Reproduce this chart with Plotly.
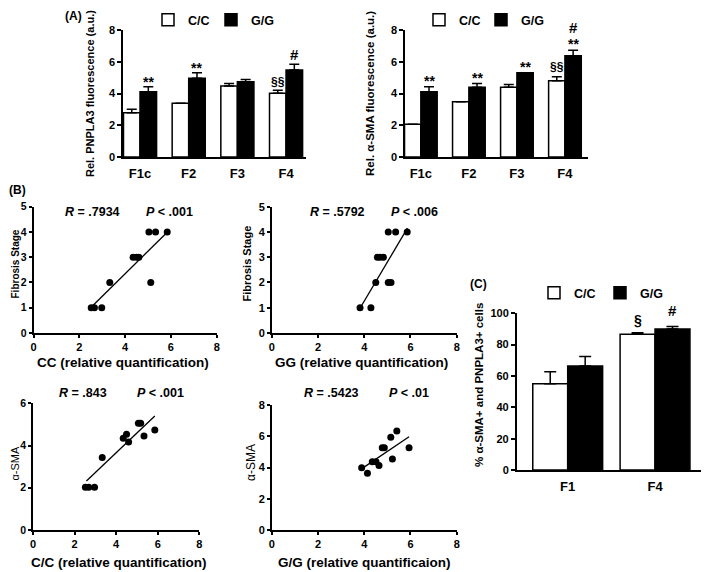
"""
Three-panel figure: PNPLA3 / alpha-SMA fluorescence bars (A),
correlation scatters (B) and double-positive cell bars (C).
"""

import plotly.graph_objects as go

# the page body keeps its default 8px margin, so the figure is drawn
# 8px in from the window corner; positions below are window pixels
PAGE_PAD = 8
W, H = 709 - PAGE_PAD, 572 - PAGE_PAD
FONT = 'Liberation Sans'

# ---- panel A data
A_CATS = ['F1c', 'F2', 'F3', 'F4']
PNPLA3_CC = [2.79, 3.38, 4.47, 4.01]
PNPLA3_CC_SEM = [0.22, 0.0, 0.16, 0.2]
PNPLA3_GG = [4.11, 4.96, 4.74, 5.48]
PNPLA3_GG_SEM = [0.32, 0.35, 0.14, 0.36]
PNPLA3_SIG_CC = ['', '', '', '§§']
PNPLA3_SIG_GG = ['**', '**', '', '']
PNPLA3_SIG_GG_TOP = ['', '', '', '#']

SMA_CC = [2.07, 3.48, 4.39, 4.81]
SMA_CC_SEM = [0.0, 0.0, 0.18, 0.25]
SMA_GG = [4.11, 4.39, 5.31, 6.38]
SMA_GG_SEM = [0.31, 0.24, 0.0, 0.35]
SMA_SIG_CC = ['', '', '', '§§']
SMA_SIG_GG = ['**', '**', '**', '**']
SMA_SIG_GG_TOP = ['', '', '', '#']

# ---- panel B data
CC_FIB_X = [2.52, 2.66, 2.98, 3.33, 4.35, 4.50, 4.60, 5.04, 5.33, 5.84, 5.12]
CC_FIB_Y = [1, 1, 1, 2, 3, 3, 3, 4, 4, 4, 2]
CC_FIB_FIT_X = [2.55, 5.84]
CC_FIB_FIT_Y = [1.05, 3.99]

GG_FIB_X = [3.82, 4.29, 4.50, 5.04, 5.16, 4.57, 4.68, 4.83, 5.04, 5.36, 5.86]
GG_FIB_Y = [1, 1, 2, 2, 2, 3, 3, 3, 4, 4, 4]
GG_FIB_FIT_X = [3.80, 5.87]
GG_FIB_FIT_Y = [0.95, 4.15]

CC_SMA_X = [2.52, 2.68, 2.96, 3.33, 4.34, 4.50, 4.60, 5.07, 5.18, 5.34, 5.86]
CC_SMA_Y = [2.02, 2.02, 2.02, 3.43, 4.34, 4.53, 4.17, 5.05, 5.05, 4.45, 4.74]
CC_SMA_FIT_X = [2.57, 5.86]
CC_SMA_FIT_Y = [2.32, 5.40]

GG_SMA_X = [3.89, 4.14, 4.35, 4.51, 4.64, 4.78, 4.87, 5.15, 5.22, 5.41, 5.94]
GG_SMA_Y = [3.99, 3.63, 4.37, 4.37, 4.12, 5.27, 5.27, 5.93, 4.54, 6.34, 5.27]
GG_SMA_FIT_X = [3.85, 5.94]
GG_SMA_FIT_Y = [3.88, 5.97]

# ---- panel C data
C_CATS = ['F1', 'F4']
DP_CC = [55.0, 86.6]
DP_CC_SEM = [7.7, 1.0]
DP_GG = [66.4, 90.0]
DP_GG_SEM = [6.0, 1.5]
DP_SIG_CC = ['', '§']
DP_SIG_GG = ['', '#']

BAR_W_A = 0.34
BAR_W_C = 0.4


def px(x):
    return (x - PAGE_PAD) / W


def py(y):
    return 1 - (y - PAGE_PAD) / H


def axis(domain, rng, anchor, **kw):
    d = dict(domain=domain, range=rng, anchor=anchor, showline=True,
             linecolor='black', linewidth=1.5, showgrid=False, zeroline=False,
             ticks='outside', ticklen=4, tickwidth=1.5, tickcolor='black',
             tickfont=dict(family=FONT, size=11, weight='bold', color='black'),
             automargin=False, fixedrange=True)
    d.update(kw)
    return d


def bar_pair(fig, cats, cc, cc_err, gg, gg_err, w, xa, ya, legs, cap):
    idx = list(range(len(cats)))
    for name, vals, err, color, off, leg in [
            ('C/C', cc, cc_err, 'white', -w, legs[0]),
            ('G/G', gg, gg_err, 'black', 0, legs[1])]:
        fig.add_trace(go.Bar(
            x=idx, y=vals, width=w, offset=off, name=name,
            marker=dict(color=color, line=dict(color='black', width=1.5)),
            error_y=dict(type='data', array=err, arrayminus=[0] * len(err),
                         symmetric=False, color='black', thickness=1.5, width=cap),
            xaxis=xa, yaxis=ya, legend=leg, showlegend=True,
        ))


def sig_marks(fig, marks, vals, err, w, side, xa, ya, size, shift):
    # significance symbols sit just above the error bar of each bar
    for i, t in enumerate(marks):
        if not t:
            continue
        fig.add_annotation(
            x=i + side * w / 2, y=vals[i] + err[i], xref=xa, yref=ya,
            text=t, showarrow=False, yanchor='middle', yshift=shift,
            font=dict(family=FONT, size=size, weight='bold', color='black'),
        )


def scatter_panel(fig, x, y, fx, fy, xa, ya):
    fig.add_trace(go.Scatter(
        x=fx, y=fy, mode='lines', line=dict(color='black', width=1.3),
        xaxis=xa, yaxis=ya, showlegend=False,
    ))
    fig.add_trace(go.Scatter(
        x=x, y=y, mode='markers', marker=dict(color='black', size=7),
        xaxis=xa, yaxis=ya, showlegend=False,
    ))


def label(fig, text, x, y, size=13, angle=0, weight='bold'):
    fig.add_annotation(
        x=px(x), y=py(y), xref='paper', yref='paper', text=text,
        showarrow=False, textangle=angle, xanchor='center', yanchor='middle',
        font=dict(family=FONT, size=size, weight=weight, color='black'),
    )


fig = go.Figure()

# panel A
bar_pair(fig, A_CATS, PNPLA3_CC, PNPLA3_CC_SEM, PNPLA3_GG, PNPLA3_GG_SEM,
         BAR_W_A, 'x', 'y', ('legend', 'legend2'), 5)
bar_pair(fig, A_CATS, SMA_CC, SMA_CC_SEM, SMA_GG, SMA_GG_SEM,
         BAR_W_A, 'x2', 'y2', ('legend3', 'legend4'), 5)

sig_marks(fig, PNPLA3_SIG_GG, PNPLA3_GG, PNPLA3_GG_SEM, BAR_W_A, 1, 'x', 'y', 14, 5)
sig_marks(fig, PNPLA3_SIG_GG_TOP, PNPLA3_GG, PNPLA3_GG_SEM, BAR_W_A, 1, 'x', 'y', 15, 10)
sig_marks(fig, PNPLA3_SIG_CC, PNPLA3_CC, PNPLA3_CC_SEM, BAR_W_A, -1, 'x', 'y', 12, 8)
sig_marks(fig, SMA_SIG_GG, SMA_GG, SMA_GG_SEM, BAR_W_A, 1, 'x2', 'y2', 14, 6)
sig_marks(fig, SMA_SIG_GG_TOP, SMA_GG, SMA_GG_SEM, BAR_W_A, 1, 'x2', 'y2', 15, 23)
sig_marks(fig, SMA_SIG_CC, SMA_CC, SMA_CC_SEM, BAR_W_A, -1, 'x2', 'y2', 12, 10)

# panel B
scatter_panel(fig, CC_FIB_X, CC_FIB_Y, CC_FIB_FIT_X, CC_FIB_FIT_Y, 'x3', 'y3')
scatter_panel(fig, GG_FIB_X, GG_FIB_Y, GG_FIB_FIT_X, GG_FIB_FIT_Y, 'x4', 'y4')
scatter_panel(fig, CC_SMA_X, CC_SMA_Y, CC_SMA_FIT_X, CC_SMA_FIT_Y, 'x5', 'y5')
scatter_panel(fig, GG_SMA_X, GG_SMA_Y, GG_SMA_FIT_X, GG_SMA_FIT_Y, 'x6', 'y6')

# panel C
bar_pair(fig, C_CATS, DP_CC, DP_CC_SEM, DP_GG, DP_GG_SEM,
         BAR_W_C, 'x7', 'y7', ('legend5', 'legend6'), 6)
sig_marks(fig, DP_SIG_CC, DP_CC, DP_CC_SEM, BAR_W_C, -1, 'x7', 'y7', 14, 13)
sig_marks(fig, DP_SIG_GG, DP_GG, DP_GG_SEM, BAR_W_C, 1, 'x7', 'y7', 15, 16)

cat_font = dict(family=FONT, size=13, weight='bold', color='black')
bar_x = dict(ticks='', tickfont=cat_font, ticklabelstandoff=4)
small_tick = dict(family=FONT, size=10.5, weight='bold', color='black')

layout_axes = dict(
    xaxis=axis([px(123), px(306)], [-0.35, 3.41], 'y', tickvals=[0, 1, 2, 3],
               ticktext=A_CATS, **bar_x),
    yaxis=axis([py(157), py(30)], [0, 8], 'x', dtick=2),
    xaxis2=axis([px(405), px(588)], [-0.33, 3.48], 'y2', tickvals=[0, 1, 2, 3],
                ticktext=A_CATS, **bar_x),
    yaxis2=axis([py(157), py(30)], [0, 8], 'x2', dtick=2),
    xaxis3=axis([px(33.5), px(216.7)], [0, 8], 'y3', dtick=2, ticklen=3),
    yaxis3=axis([py(333), py(206.7)], [0, 5], 'x3', dtick=1, ticklen=3,
                tickfont=small_tick),
    xaxis4=axis([px(271.7), px(456.7)], [0, 8], 'y4', dtick=2, ticklen=3),
    yaxis4=axis([py(333), py(206.7)], [0, 5], 'x4', dtick=1, ticklen=3),
    xaxis5=axis([px(33), px(199.3)], [0, 8], 'y5', dtick=2, ticklen=3),
    yaxis5=axis([py(530), py(403.3)], [0, 6], 'x5', dtick=2, ticklen=3,
                tickfont=small_tick),
    xaxis6=axis([px(271.7), px(456.7)], [0, 8], 'y6', dtick=2, ticklen=3),
    yaxis6=axis([py(530), py(405)], [0, 8], 'x6', dtick=2, ticklen=3),
    xaxis7=axis([px(516.7), px(708.3)], [-0.584, 1.61], 'y7', tickvals=[0, 1],
                ticktext=C_CATS, **bar_x),
    yaxis7=axis([py(470), py(313.3)], [0, 100], 'x7', dtick=20),
)

# one legend per genotype key so each key sits where the reference has it
leg_font = dict(family=FONT, size=12.5, weight='bold', color='black')
leg = dict(orientation='h', xanchor='left', yanchor='middle', font=leg_font,
           bgcolor='rgba(0,0,0,0)', itemwidth=30, itemclick=False,
           itemdoubleclick=False)

fig.update_layout(
    width=W, height=H,
    margin=dict(l=0, r=0, t=0, b=0, pad=0, autoexpand=False),
    paper_bgcolor='white', plot_bgcolor='white',
    barmode='overlay', showlegend=True,
    font=dict(family=FONT, color='black'),
    legend=dict(leg, x=px(148), y=py(20)),
    legend2=dict(leg, x=px(211), y=py(20)),
    legend3=dict(leg, x=px(419), y=py(20)),
    legend4=dict(leg, x=px(481), y=py(20)),
    legend5=dict(leg, x=px(534), y=py(293)),
    legend6=dict(leg, x=px(600), y=py(293)),
    **layout_axes,
)

# panel letters
label(fig, '(A)', 73.5, 15.5, 12)
label(fig, '(B)', 17, 190, 12)
label(fig, '(C)', 478.5, 284, 12)

# axis titles
label(fig, 'Rel. PNPLA3 fluorescence (a.u.)', 90, 94, 11, -90)
label(fig, 'Rel. α-SMA fluorescence (a.u.)', 370, 94, 11.5, -90)
label(fig, 'CC (relative quantification)', 122.5, 362.7, 13.5)
label(fig, 'GG (relative quantification)', 361.7, 362.7, 13.5)
label(fig, 'C/C (relative quantification)', 119, 562, 13.5)
label(fig, 'G/G (relative quantificaion)', 364, 562, 13.5)
label(fig, 'Fibrosis Stage', 14.5, 264, 10, -90)
label(fig, 'Fibrosis Stage', 246.5, 264, 11, -90)
label(fig, 'α-SMA', 14.5, 463, 11, -90, 'normal')
label(fig, 'α-SMA', 251, 463, 12, -90, 'normal')
label(fig, '% α-SMA+ and PNPLA3+ cells', 479, 385, 11.5, -90)

# correlation stats
label(fig, '<i>R</i> = .7934', 92.5, 211.7, 12.5)
label(fig, '<i>P</i> < .001', 169.5, 211.7, 12.5)
label(fig, '<i>R</i> = .5792', 337.5, 211.7, 12.5)
label(fig, '<i>P</i> < .006', 414, 211.7, 12.5)
label(fig, '<i>R</i> = .843', 82.5, 393, 12.5)
label(fig, '<i>P</i> < .001', 160.5, 393, 12.5)
label(fig, '<i>R</i> = .5423', 331.5, 393, 12.5)
label(fig, '<i>P</i> < .01', 408.5, 393, 12.5)

fig.write_html("out.html")
